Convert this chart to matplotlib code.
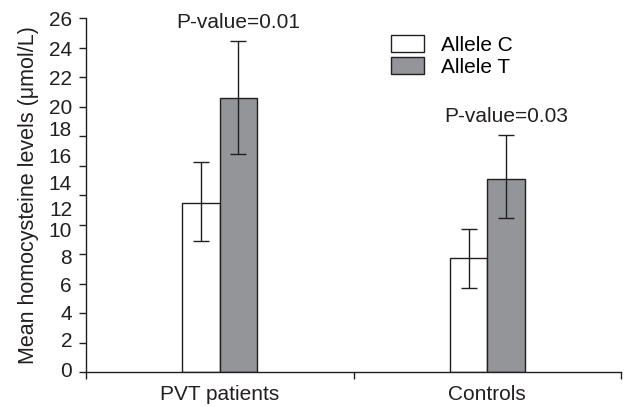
import numpy as np
import matplotlib
matplotlib.use("Agg")
import matplotlib.pyplot as plt

plt.rcParams['font.family'] = ['Liberation Sans', 'DejaVu Sans']

# data
groups = ["PVT patients", "Controls"]
allele_c = [12.4, 8.4]
allele_c_lo = [9.6, 6.2]
allele_c_hi = [15.4, 10.5]
allele_t = [20.1, 14.2]
allele_t_lo = [16.0, 11.3]
allele_t_hi = [24.3, 17.4]
p_values = ["P-value=0.01", "P-value=0.03"]

# y tick labels as printed (they drift from the tick marks in the original)
ytick_text = ["26", "24", "22", "20", "18", "16", "14", "12", "10", "8", "6", "4", "2", "0"]
ytick_text_pos = [25.95, 23.75, 21.6, 19.5, 17.9, 15.9, 13.95, 12.0, 10.5, 8.5, 6.4, 4.35, 2.4, 0.15]

fig = plt.figure(figsize=(6.24, 4.07), dpi=100)
ax = fig.add_axes([86 / 624, 35 / 407, 535 / 624, 354 / 407])
ax.yaxis.remove_overlapping_locs = False
ax.xaxis.remove_overlapping_locs = False

x = np.array([0.5, 1.5])
w = 0.14
c_err = [np.array(allele_c) - np.array(allele_c_lo), np.array(allele_c_hi) - np.array(allele_c)]
t_err = [np.array(allele_t) - np.array(allele_t_lo), np.array(allele_t_hi) - np.array(allele_t)]

ax.bar(x - w / 2, allele_c, w, color="white", edgecolor="#231f20", linewidth=1.0,
       label="Allele C", yerr=c_err, capsize=6,
       error_kw=dict(ecolor="#231f20", elinewidth=1.0, capthick=1.0))
ax.bar(x + w / 2, allele_t, w, color="#939598", edgecolor="#231f20", linewidth=1.0,
       label="Allele T", yerr=t_err, capsize=6,
       error_kw=dict(ecolor="#231f20", elinewidth=1.0, capthick=1.0))

for xi, top, txt in zip(x + w / 2, allele_t_hi, p_values):
    ax.text(xi, top + 1.4, txt, ha="center", va="center", fontsize=15, color="#231f20")

ax.set_xlim(0, 2)
ax.set_ylim(0, 26)
ax.set_xticks([0, 1, 2])
ax.set_xticklabels([])
ax.set_xticks(x, minor=True)
ax.set_xticklabels(groups, minor=True, fontsize=15, color="#231f20")
ax.tick_params(axis="x", which="minor", length=0, pad=9)

ax.set_yticks(np.linspace(0, 26, 13))
ax.set_yticklabels([])
ax.set_yticks(ytick_text_pos, minor=True)
ax.set_yticklabels(ytick_text, minor=True, fontsize=15, color="#231f20")
ax.tick_params(axis="y", which="minor", length=0, pad=10)
ax.tick_params(which="major", direction="out", length=5, width=1.0, color="#231f20")

for side in ["top", "right"]:
    ax.spines[side].set_visible(False)
for side in ["left", "bottom"]:
    ax.spines[side].set_color("#231f20")
    ax.spines[side].set_linewidth(1.0)

ax.set_ylabel("Mean homocysteine levels (\u03bcmol/L)", fontsize=15.5, color="#231f20", labelpad=7)

ax.legend(loc="upper left", bbox_to_anchor=(0.535, 1.005), frameon=False, fontsize=15,
          handlelength=1.6, handleheight=0.9, labelspacing=0.1, handletextpad=0.8)

fig.savefig("out.png", dpi=100)
